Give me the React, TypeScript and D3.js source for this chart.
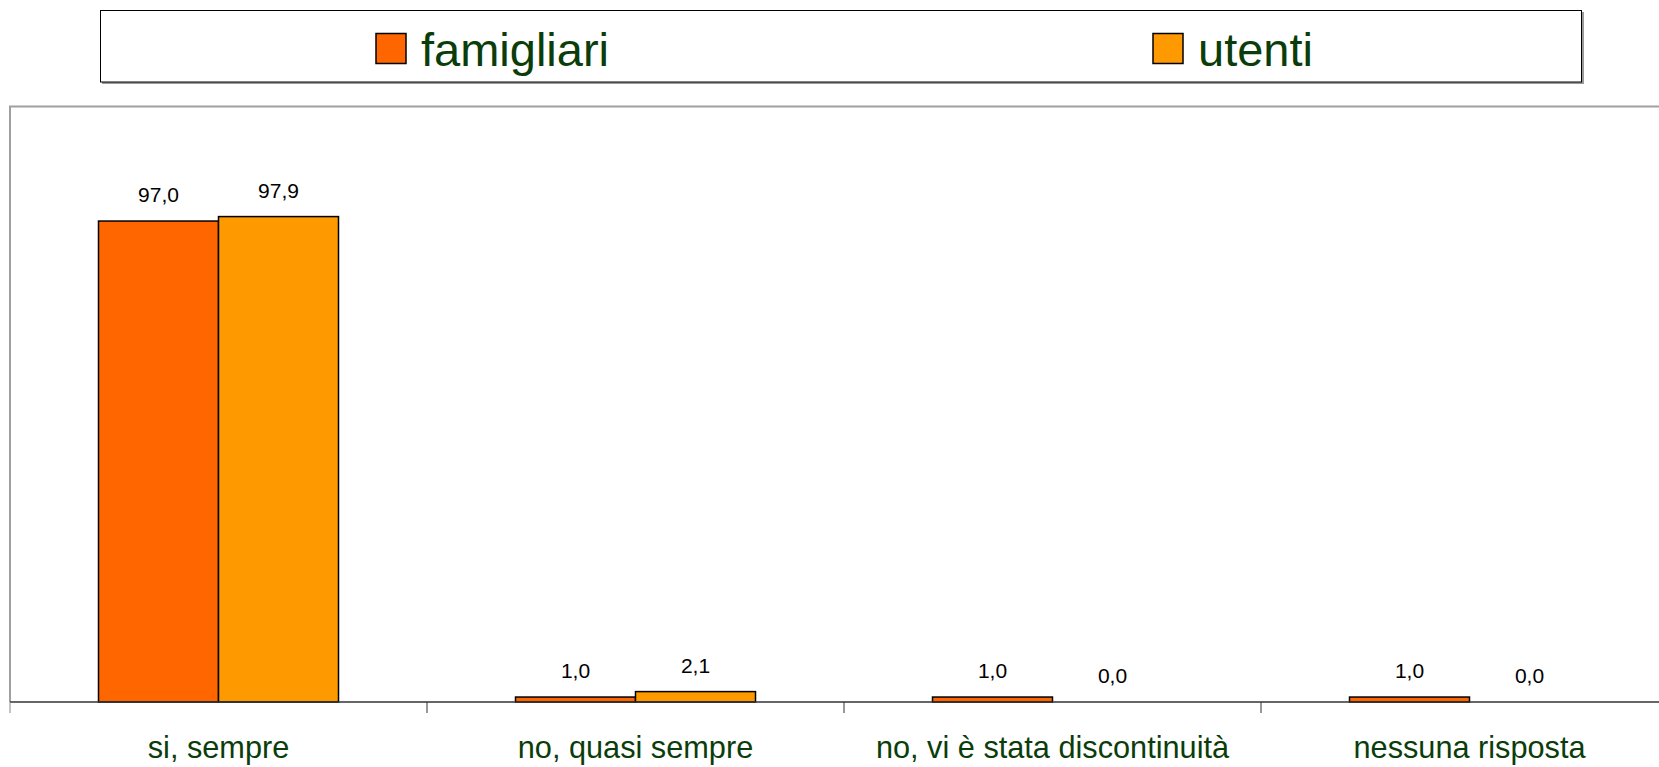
import React from "react";
import * as d3 from "d3";

const categories = ["si, sempre", "no, quasi sempre", "no, vi è stata discontinuità", "nessuna risposta"];
const seriesNames = ["famigliari", "utenti"];
const famigliari = [97.0, 1.0, 1.0, 1.0];
const utenti = [97.9, 2.1, 0.0, 0.0];
const seriesColors = ["#FF6600", "#FF9900"];

const W = 1659;
const H = 767;
const FONT = "'Liberation Sans', Arial, Helvetica, sans-serif";
const GREEN = "#0B3D0B";

export default function App() {
  const left = 10;
  const band = 417;
  const baseY = 702;
  const topY = 107;
  const x0 = d3.scaleBand<string>().domain(categories).range([left, left + band * categories.length]).padding(0);
  const groupW = 240;
  const x1 = d3
    .scaleBand<string>()
    .domain(seriesNames)
    .range([(band - groupW) / 2, (band + groupW) / 2])
    .padding(0);
  const y = d3.scaleLinear().domain([0, 120]).range([baseY, topY]);
  const values = [famigliari, utenti];
  const fmt = (v: number) => v.toFixed(1).replace(".", ",");

  const legendX = [376, 1153];

  return (
    <svg
      width={W}
      height={H}
      style={{ position: "absolute", left: 0, top: 0, background: "#fff" }}
      fontFamily={FONT}
    >
      {/* legend box with shadow */}
      <rect x={102} y={12} width={1482} height={72} fill="#9a9a9a" />
      <rect x={100.5} y={10.5} width={1481} height={71.5} fill="#fff" stroke="#000" strokeWidth={1} />
      {seriesNames.map((s, i) => (
        <g key={s}>
          <rect x={legendX[i]} y={33.5} width={30} height={30} fill={seriesColors[i]} stroke="#000" strokeWidth={1.5} />
          <text x={legendX[i] + 45} y={65.5} fontSize={47} fill={GREEN}>
            {s}
          </text>
        </g>
      ))}

      {/* plot frame */}
      <path d={`M${left},${baseY} V${topY - 0.5} H${W}`} fill="none" stroke="#a0a0a0" strokeWidth={2} />

      {/* bars */}
      {categories.map((c, ci) => (
        <g key={c} transform={`translate(${x0(c)},0)`}>
          {seriesNames.map((s, si) => {
            const v = values[si][ci];
            const bx = x1(s)!;
            const bw = x1.bandwidth();
            return (
              <g key={s}>
                {v > 0 && (
                  <rect
                    x={bx}
                    y={y(v)}
                    width={bw}
                    height={baseY - y(v)}
                    fill={seriesColors[si]}
                    stroke="#000"
                    strokeWidth={1.5}
                  />
                )}
                <text x={bx + bw / 2} y={y(v) - 19} textAnchor="middle" fontSize={21} fill="#000">
                  {fmt(v)}
                </text>
              </g>
            );
          })}
          <text x={x0.bandwidth() / 2} y={758} textAnchor="middle" fontSize={30.7} fill={GREEN}>
            {c}
          </text>
        </g>
      ))}

      {/* baseline and ticks */}
      <line x1={left} x2={W} y1={baseY} y2={baseY} stroke="#333" strokeWidth={1.5} />
      {d3.range(categories.length + 1).map((i) => (
        <line
          key={i}
          x1={left + band * i}
          x2={left + band * i}
          y1={baseY}
          y2={baseY + 11}
          stroke={i === 0 ? "#888" : "#333"}
          strokeWidth={1}
        />
      ))}
    </svg>
  );
}
